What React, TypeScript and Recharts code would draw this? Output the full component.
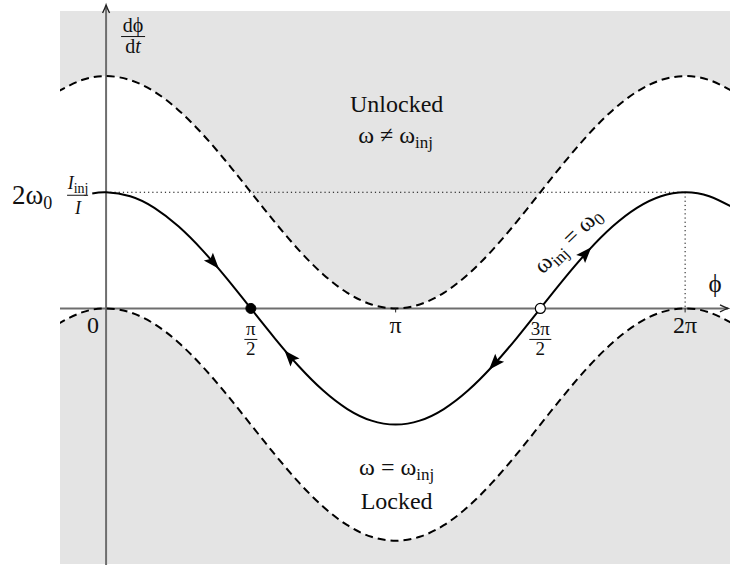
import {
  Area,
  ComposedChart,
  Line,
  ReferenceDot,
  ReferenceLine,
  XAxis,
  YAxis,
} from "recharts";

const SERIF = "'Liberation Serif', 'Times New Roman', serif";
const GREY = "#e4e4e4";
const AXIS = "#6e6e6e";

// phase samples (rad), step pi/12
const PHI = [
  -0.524, -0.262, 0, 0.262, 0.524, 0.785, 1.047, 1.309, 1.571, 1.833, 2.094,
  2.356, 2.618, 2.88, 3.142, 3.403, 3.665, 3.927, 4.189, 4.451, 4.712, 4.974,
  5.236, 5.498, 5.76, 6.021, 6.283, 6.545, 6.807,
];
// edge of the unlocked region (upper dashed curve)
const UNLOCK_EDGE = [
  1.866, 1.966, 2, 1.966, 1.866, 1.707, 1.5, 1.259, 1, 0.741, 0.5, 0.293,
  0.134, 0.034, 0, 0.034, 0.134, 0.293, 0.5, 0.741, 1, 1.259, 1.5, 1.707,
  1.866, 1.966, 2, 1.966, 1.866,
];
// edge of the locked region (lower dashed curve)
const LOCK_EDGE = [
  -0.134, -0.034, 0, -0.034, -0.134, -0.293, -0.5, -0.741, -1, -1.259, -1.5,
  -1.707, -1.866, -1.966, -2, -1.966, -1.866, -1.707, -1.5, -1.259, -1,
  -0.741, -0.5, -0.293, -0.134, -0.034, 0, -0.034, -0.134,
];

// trajectory dphi/dt, normalised to 2*w0*Iinj/I
const TRAJ_PHI = [
  -0.15, 0, 0.262, 0.524, 0.785, 1.047, 1.309, 1.571, 1.833, 2.094, 2.356,
  2.618, 2.88, 3.142, 3.403, 3.665, 3.927, 4.189, 4.451, 4.712, 4.974, 5.236,
  5.498, 5.76, 6.021, 6.283, 6.545, 6.807,
];
const TRAJ = [
  0.989, 1, 0.966, 0.866, 0.707, 0.5, 0.259, 0, -0.259, -0.5, -0.707, -0.866,
  -0.966, -1, -0.966, -0.866, -0.707, -0.5, -0.259, 0, 0.259, 0.5, 0.707,
  0.866, 0.966, 1, 0.966, 0.866,
];

// flow direction arrows on the trajectory: phase, value, heading (deg)
const ARROW_PHI = [1.16, 2.0, 4.22, 5.2];
const ARROW_VAL = [0.4, -0.42, -0.47, 0.47];
const ARROW_DIR = [49, 229, 132, -48];

const TICK_PHI = [0, 1.571, 3.142, 4.712, 6.283];
const TICK_NUM = ["0", "π", "π", "3π", "2π"];
const TICK_DEN = ["", "2", "", "2", ""];

const X_MIN = -0.5;
const X_MAX = 6.77;
const Y_MIN = -2.2;
const Y_MAX = 2.612;
const BAND_TOP = 2.56;

const rows = PHI.map((phi, i) => ({
  phi,
  upper: UNLOCK_EDGE[i],
  lower: LOCK_EDGE[i],
  unlocked: [UNLOCK_EDGE[i], BAND_TOP],
  locked: [Y_MIN, LOCK_EDGE[i]],
}));

const trajRows = TRAJ_PHI.map((phi, i) => ({ phi, value: TRAJ[i] }));

const txt = { fontFamily: SERIF, fill: "#111" };

function Fraction({
  x,
  y,
  num,
  den,
  size,
  bar,
}: {
  x: number;
  y: number;
  num: React.ReactNode;
  den: React.ReactNode;
  size: number;
  bar: number;
}) {
  return (
    <g>
      <text x={x} y={y - 4} textAnchor="middle" fontSize={size} {...txt}>
        {num}
      </text>
      <line x1={x - bar / 2} x2={x + bar / 2} y1={y} y2={y} stroke="#111" strokeWidth={1} />
      <text x={x} y={y + 16} textAnchor="middle" fontSize={size} {...txt}>
        {den}
      </text>
    </g>
  );
}

export default function App() {
  return (
    <div
      style={{
        position: "absolute",
        left: 0,
        top: 0,
        width: 730,
        height: 565,
        background: "#fff",
      }}
    >
      <ComposedChart
        width={730}
        height={565}
        data={rows}
        margin={{ top: 5, right: 0, bottom: 1, left: 60 }}
      >
        <XAxis
          type="number"
          dataKey="phi"
          domain={[X_MIN, X_MAX]}
          allowDataOverflow
          hide
        />
        <YAxis type="number" domain={[Y_MIN, Y_MAX]} allowDataOverflow hide />

        <Area
          dataKey="unlocked"
          type="natural"
          fill={GREY}
          fillOpacity={1}
          stroke="none"
          isAnimationActive={false}
        />
        <Area
          dataKey="locked"
          type="natural"
          fill={GREY}
          fillOpacity={1}
          stroke="none"
          isAnimationActive={false}
        />

        {/* guide lines to the peak at 2pi */}
        <ReferenceLine
          segment={[
            { x: 0, y: 1 },
            { x: 6.283, y: 1 },
          ]}
          stroke="#000"
          strokeWidth={1}
          strokeDasharray="1.2 3"
          ifOverflow="visible"
        />
        <ReferenceLine
          segment={[
            { x: 6.283, y: 1 },
            { x: 6.283, y: 0 },
          ]}
          stroke="#000"
          strokeWidth={1}
          strokeDasharray="1.2 3"
          ifOverflow="visible"
        />

        {/* axes */}
        <ReferenceLine
          segment={[
            { x: X_MIN, y: 0 },
            { x: 6.75, y: 0 },
          ]}
          stroke={AXIS}
          strokeWidth={2}
          ifOverflow="visible"
        />
        <ReferenceLine
          segment={[
            { x: 0, y: -2.21 },
            { x: 0, y: Y_MAX - 0.02 },
          ]}
          stroke={AXIS}
          strokeWidth={2}
          ifOverflow="visible"
        />

        <Line
          dataKey="upper"
          type="natural"
          stroke="#000"
          strokeWidth={2}
          strokeDasharray="8 5"
          dot={false}
          isAnimationActive={false}
        />
        <Line
          dataKey="lower"
          type="natural"
          stroke="#000"
          strokeWidth={2}
          strokeDasharray="8 5"
          dot={false}
          isAnimationActive={false}
        />
        <Line
          data={trajRows}
          dataKey="value"
          type="natural"
          stroke="#000"
          strokeWidth={2}
          dot={false}
          isAnimationActive={false}
        />

        {/* axis arrow heads */}
        <ReferenceDot
          x={0}
          y={Y_MAX}
          r={0}
          ifOverflow="visible"
          shape={(p: any) => (
            <path
              transform={`translate(${p.cx},${p.cy})`}
              d="M-3.5,8 Q-1,3 0,0 Q1,3 3.5,8"
              fill="none"
              stroke="#222"
              strokeWidth={1.4}
            />
          )}
        />
        <ReferenceDot
          x={X_MAX}
          y={0}
          r={0}
          ifOverflow="visible"
          shape={(p: any) => (
            <path
              transform={`translate(${p.cx - 2},${p.cy}) rotate(90)`}
              d="M-3.5,8 Q-1,3 0,0 Q1,3 3.5,8"
              fill="none"
              stroke="#222"
              strokeWidth={1.4}
            />
          )}
        />

        {/* tick marks and labels */}
        {TICK_PHI.map((phi, i) => (
          <ReferenceDot
            key={`t${i}`}
            x={phi}
            y={0}
            r={0}
            ifOverflow="visible"
            shape={(p: any) => {
              if (TICK_DEN[i]) {
                return (
                  <Fraction
                    x={p.cx}
                    y={p.cy + 31}
                    num={TICK_NUM[i]}
                    den={TICK_DEN[i]}
                    size={19}
                    bar={TICK_NUM[i].length > 1 ? 22 : 13}
                  />
                );
              }
              const left = phi === 0;
              return (
                <g>
                  {!left && (
                    <line
                      x1={p.cx}
                      x2={p.cx}
                      y1={p.cy}
                      y2={p.cy + 4}
                      stroke="#222"
                      strokeWidth={1}
                    />
                  )}
                  <text
                    x={left ? p.cx - 13 : p.cx}
                    y={p.cy + 25}
                    textAnchor="middle"
                    fontSize={24}
                    {...txt}
                  >
                    {TICK_NUM[i]}
                  </text>
                </g>
              );
            }}
          />
        ))}

        {/* equilibrium points */}
        <ReferenceDot
          x={1.571}
          y={0}
          r={5}
          fill="#000"
          stroke="#000"
          ifOverflow="visible"
        />
        <ReferenceDot
          x={4.712}
          y={0}
          r={5}
          fill="#fff"
          stroke="#000"
          strokeWidth={1.2}
          ifOverflow="visible"
        />

        {/* flow arrows */}
        {ARROW_PHI.map((phi, i) => (
          <ReferenceDot
            key={`a${i}`}
            x={phi}
            y={ARROW_VAL[i]}
            r={0}
            ifOverflow="visible"
            shape={(p: any) => (
              <path
                transform={`translate(${p.cx},${p.cy}) rotate(${ARROW_DIR[i]})`}
                d="M9,0 L-7,-6 L-4,0 L-7,6 Z"
                fill="#000"
              />
            )}
          />
        ))}

        {/* axis titles */}
        <ReferenceDot
          x={0}
          y={BAND_TOP}
          r={0}
          ifOverflow="visible"
          shape={(p: any) => (
            <g>
              <text x={p.cx + 27} y={p.cy + 21} textAnchor="middle" fontSize={20} {...txt}>
                dϕ
              </text>
              <line
                x1={p.cx + 15}
                x2={p.cx + 39}
                y1={p.cy + 25.5}
                y2={p.cy + 25.5}
                stroke="#111"
                strokeWidth={1}
              />
              <text x={p.cx + 27} y={p.cy + 42} textAnchor="middle" fontSize={20} {...txt}>
                d<tspan fontStyle="italic">t</tspan>
              </text>
            </g>
          )}
        />
        <ReferenceDot
          x={X_MAX}
          y={0}
          r={0}
          ifOverflow="visible"
          shape={(p: any) => (
            <text x={p.cx - 15} y={p.cy - 16} textAnchor="middle" fontSize={25} {...txt}>
              ϕ
            </text>
          )}
        />
        <ReferenceDot
          x={0}
          y={1}
          r={0}
          ifOverflow="visible"
          shape={(p: any) => (
            <g>
              <text x={p.cx - 94} y={p.cy + 12} fontSize={27} {...txt}>
                2ω
                <tspan fontSize={18} dy={5}>
                  0
                </tspan>
              </text>
              <text x={p.cx - 28} y={p.cy - 3} textAnchor="middle" fontSize={18} {...txt}>
                <tspan fontStyle="italic">I</tspan>
                <tspan fontSize={14} dy={4}>
                  inj
                </tspan>
              </text>
              <line
                x1={p.cx - 39}
                x2={p.cx - 18}
                y1={p.cy + 3}
                y2={p.cy + 3}
                stroke="#111"
                strokeWidth={1}
              />
              <text
                x={p.cx - 28}
                y={p.cy + 22}
                textAnchor="middle"
                fontSize={18}
                fontStyle="italic"
                {...txt}
              >
                I
              </text>
            </g>
          )}
        />

        {/* region labels */}
        <ReferenceDot
          x={3.142}
          y={2}
          r={0}
          ifOverflow="visible"
          shape={(p: any) => (
            <g>
              <text x={p.cx + 1} y={p.cy + 36} textAnchor="middle" fontSize={24} {...txt}>
                Unlocked
              </text>
              <text x={p.cx} y={p.cy + 67} textAnchor="middle" fontSize={24} {...txt}>
                ω ≠ ω
                <tspan fontSize={17} dy={5}>
                  inj
                </tspan>
              </text>
            </g>
          )}
        />
        <ReferenceDot
          x={3.142}
          y={-2}
          r={0}
          ifOverflow="visible"
          shape={(p: any) => (
            <g>
              <text x={p.cx + 1} y={p.cy - 66} textAnchor="middle" fontSize={24} {...txt}>
                ω = ω
                <tspan fontSize={17} dy={5}>
                  inj
                </tspan>
              </text>
              <text x={p.cx + 1} y={p.cy - 32} textAnchor="middle" fontSize={24} {...txt}>
                Locked
              </text>
            </g>
          )}
        />
        <ReferenceDot
          x={5.065}
          y={0.54}
          r={0}
          ifOverflow="visible"
          shape={(p: any) => (
            <text
              transform={`translate(${p.cx},${p.cy}) rotate(-44)`}
              textAnchor="middle"
              fontSize={24}
              {...txt}
            >
              ω
              <tspan fontSize={17} dy={5}>
                inj
              </tspan>
              <tspan dy={-5}> = ω</tspan>
              <tspan fontSize={17} dy={5}>
                0
              </tspan>
            </text>
          )}
        />
      </ComposedChart>
    </div>
  );
}
